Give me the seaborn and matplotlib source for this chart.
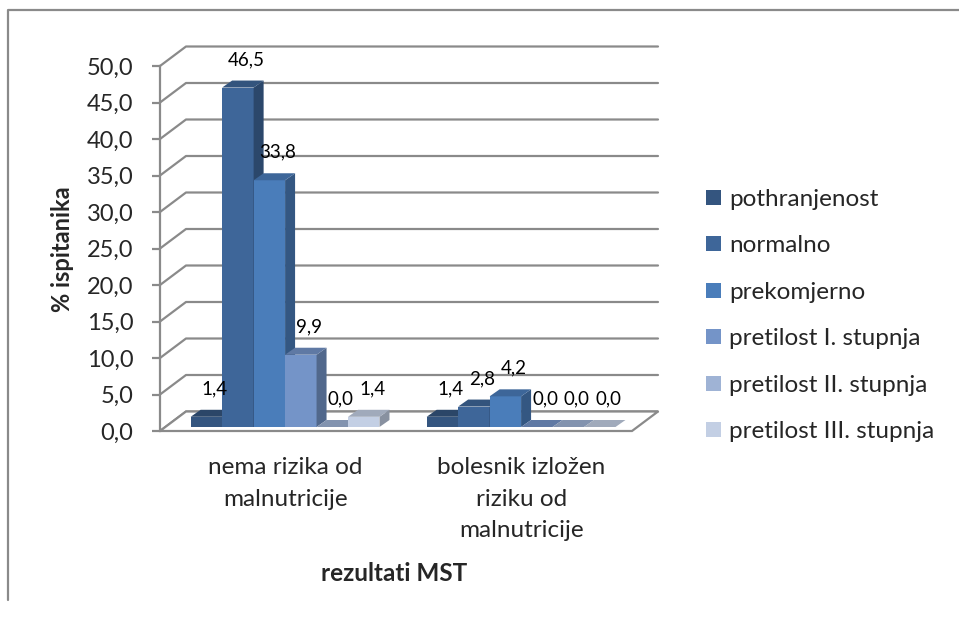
import numpy as np
import pandas as pd
import matplotlib
matplotlib.use('Agg')
import matplotlib.pyplot as plt
import seaborn as sns
from matplotlib.patches import Polygon, Patch
from matplotlib.lines import Line2D
from matplotlib.ticker import FuncFormatter

# data
categories = ['nema rizika od\nmalnutricije', 'bolesnik izložen\nriziku od\nmalnutricije']
series = ['pothranjenost', 'normalno', 'prekomjerno',
          'pretilost I. stupnja', 'pretilost II. stupnja', 'pretilost III. stupnja']
nema_rizika = [1.4, 46.5, 33.8, 9.9, 0.0, 1.4]
izlozen_riziku = [1.4, 2.8, 4.2, 0.0, 0.0, 0.0]
colors = ['#34557F', '#3E6699', '#4A7DBA', '#7494C8', '#9FB3D5', '#C3CFE4']

df = pd.DataFrame({
    'kategorija': [categories[0]] * len(series) + [categories[1]] * len(series),
    'grupa': series * 2,
    'postotak': nema_rizika + izlozen_riziku,
})

sns.set_style('white')
plt.rcParams['font.family'] = ['Lato', 'DejaVu Sans']

GRAY = '#8A8A8A'

fig = plt.figure(figsize=(9.59, 6.18), dpi=100)
ax = fig.add_axes([160 / 959, 1 - 431 / 618, 472 / 959, 365 / 618])
sns.barplot(data=df, x='kategorija', y='postotak', hue='grupa', hue_order=series,
            palette=colors, saturation=1, width=0.8, errorbar=None,
            legend=False, linewidth=0, ax=ax)

x_lo, x_hi = -0.53, 1.47
ax.set_xlim(x_lo, x_hi)
ax.set_ylim(0, 50)
ax.set_yticks(np.arange(0, 51, 5))
ax.yaxis.set_major_formatter(FuncFormatter(lambda v, p: f'{v:.1f}'.replace('.', ',')))

# fake 3D depth, in data units
px_x = 472 / (x_hi - x_lo)
px_y = 365 / 50
wall_dx, wall_dy = 26 / px_x, 19.5 / px_y
bar_dx, bar_dy = 10 / px_x, 7 / px_y
lift = 4 / px_y

# floor
floor = Polygon([(x_lo, 0), (x_hi, 0), (x_hi + wall_dx, wall_dy), (x_lo + wall_dx, wall_dy)],
                closed=True, facecolor='white', edgecolor=GRAY, linewidth=1.6,
                clip_on=False, zorder=1)
ax.add_patch(floor)

# back wall gridlines + left wall diagonals
for t in ax.get_yticks():
    ax.plot([x_lo, x_lo + wall_dx, x_hi + wall_dx], [t, t + wall_dy, t + wall_dy],
            color=GRAY, linewidth=1.6, clip_on=False, zorder=0.5)


def shade(c, f):
    r, g, b = matplotlib.colors.to_rgb(c)
    return (r * f, g * f, b * f)


bars = sorted([p for p in ax.patches if p is not floor], key=lambda p: p.get_x())
for i, p in enumerate(bars):
    x0, w, h = p.get_x(), p.get_width(), p.get_height()
    c = p.get_facecolor()
    p.set_y(lift)
    z = 3 + i * 0.1
    p.set_zorder(z)
    side = Polygon([(x0 + w, lift), (x0 + w + bar_dx, lift + bar_dy),
                    (x0 + w + bar_dx, lift + h + bar_dy), (x0 + w, lift + h)],
                   closed=True, facecolor=shade(c, 0.7), linewidth=0, clip_on=False, zorder=z + 0.01)
    top = Polygon([(x0, lift + h), (x0 + bar_dx, lift + h + bar_dy),
                   (x0 + w + bar_dx, lift + h + bar_dy), (x0 + w, lift + h)],
                  closed=True, facecolor=shade(c, 0.82), linewidth=0, clip_on=False, zorder=z + 0.02)
    ax.add_patch(side)
    ax.add_patch(top)
    ax.text(x0 + w / 2 + 0.035, lift + h + 28 / px_y, f'{h:.1f}'.replace('.', ','),
            ha='center', va='center', fontsize=13.5, color='#000000', zorder=10)

for s in ['top', 'right', 'bottom']:
    ax.spines[s].set_visible(False)
ax.spines['left'].set_color(GRAY)
ax.spines['left'].set_linewidth(1.6)
ax.spines['left'].set_zorder(0.6)
ax.tick_params(axis='y', direction='out', length=6, width=1.6, color=GRAY,
               labelsize=17, pad=13, left=True)
ax.tick_params(axis='x', length=0, labelsize=17.5, pad=19)
for lbl in ax.get_xticklabels():
    lbl.set_linespacing(1.6)
    lbl.set_multialignment('center')

ax.set_ylabel('% ispitanika', fontsize=17, fontweight='bold')
ax.yaxis.set_label_coords((74 - 160) / 472, (431 - 249) / 365)
ax.set_xlabel('rezultati MST', fontsize=17.5, fontweight='bold')
ax.xaxis.set_label_coords((394 - 160) / 472, (431 - 562) / 365)

handles = [Patch(facecolor=c, edgecolor='none') for c in colors]
fig.legend(handles, series, loc='upper left', bbox_to_anchor=(696 / 959, 1 - 179 / 618),
           frameon=False, fontsize=17.5, handlelength=0.62, handleheight=0.58,
           handletextpad=0.33, labelspacing=1.05, borderaxespad=0)

# outer frame (only top and left edges show)
fig.add_artist(Line2D([8 / 959, 8 / 959, 1.0], [1 - 600 / 618, 1 - 10 / 618, 1 - 10 / 618],
                      transform=fig.transFigure, color=GRAY, linewidth=1.6))

fig.savefig('out.png', dpi=100, facecolor='white')
